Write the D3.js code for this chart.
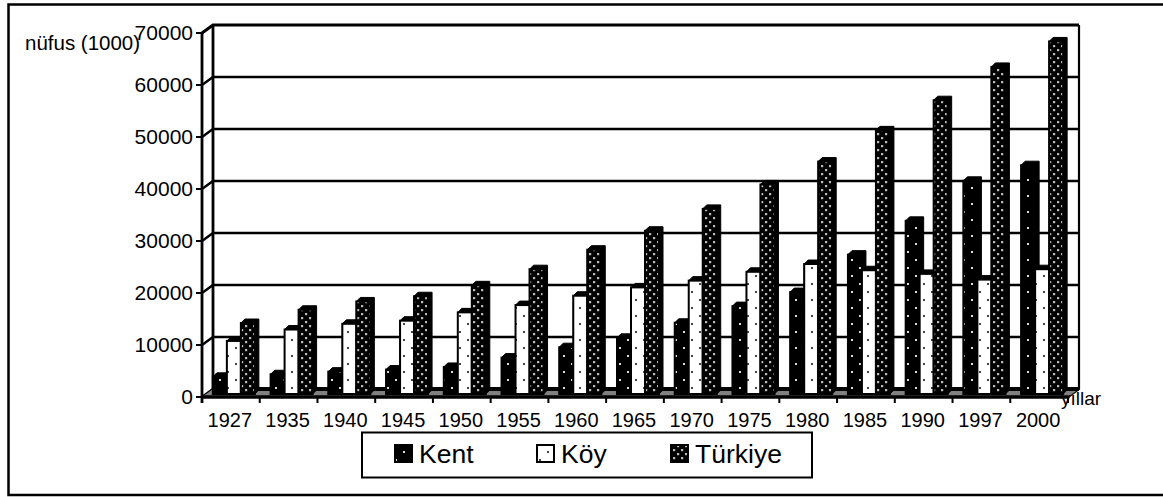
<!DOCTYPE html>
<html><head><meta charset="utf-8"><script src="https://d3js.org/d3.v7.min.js"></script>
<style>html,body{margin:0;background:#fff}svg{display:block}text{font-family:"Liberation Sans",Arial,sans-serif;fill:#000}</style></head>
<body><svg id="c" width="1163" height="497"></svg>
<script>
const categories=["1927","1935","1940","1945","1950","1955","1960","1965","1970","1975","1980","1985","1990","1997","2000"];
const kent=[3300,3800,4300,4700,5200,7000,9000,10800,13700,16900,19600,26800,33300,41000,44000];
const koy=[10200,12400,13500,14100,15700,17100,18900,20500,21800,23500,25000,23800,23100,22000,24000];
const turkiye=[13650,16200,17800,18800,20900,24000,27750,31400,35600,40300,44700,50700,56500,62900,67800];
const seriesNames=["Kent","Köy","Türkiye"];
const yTicks=[0,10000,20000,30000,40000,50000,60000,70000];
const seriesValues=[kent,koy,turkiye];
const svg=d3.select("#c");
const defs=svg.append("defs");
function pattern(id,bg,dot,w,h,r,pts){
  const p=defs.append("pattern").attr("id",id).attr("patternUnits","userSpaceOnUse").attr("width",w).attr("height",h);
  p.append("rect").attr("width",w).attr("height",h).attr("fill",bg);
  pts.forEach(q=>p.append("rect").attr("x",q[0]).attr("y",q[1]).attr("width",r).attr("height",r).attr("fill",dot));
}
pattern("pK","#000","#ddd",16,16,2,[[3,3],[11,11]]);
pattern("pV","#fff","#444",16,16,2,[[3,3],[11,11]]);
pattern("pT","#000","#bbb",8,8,2.2,[[1,1],[5,5]]);
const fills=["url(#pK)","url(#pV)","url(#pT)"];
const dx=11,dy=-8;
const x=d3.scaleBand().domain(categories).range([202,1068]);
const y=d3.scaleLinear().domain([0,70000]).range([397,33]);
const X0=x.range()[0],X1=x.range()[1],Y0=y(0),Y1=y(70000);
svg.append("path").attr("d",`M1170,4.5H8.5V495H1170`).attr("fill","none").attr("stroke","#000").attr("stroke-width",2.5);
const g=svg.append("g").attr("fill","none").attr("stroke","#000");
g.selectAll(".g").data(yTicks).join("path").attr("stroke-width",d=>d==70000?3:2.4)
 .attr("d",d=>`M${X0},${y(d)}L${X0+dx},${y(d)+dy}H${X1+dx}`);
g.append("path").attr("stroke-width",2.8).attr("d",`M${X0+dx},${Y1+dy}V${Y0+dy}`);
g.append("path").attr("stroke-width",2.2).attr("d",`M${X1+dx},${Y1+dy}V${Y0+dy}L${X1},${Y0}`);
svg.append("path").attr("fill","#808080").attr("stroke","none").attr("d",`M${X0},${Y0}L${X0+dx},${Y0+dy}H${X1+dx}L${X1},${Y0}Z`);
svg.append("path").attr("fill","none").attr("stroke","#000").attr("stroke-width",4).attr("d",`M${X0+dx},${Y0+dy}H${X1+dx}`);
const slot=14,groupPad=(x.bandwidth()-3*slot)/2+3.5;
const base=y(0)-3,sx=4,sy=-4;
const barG=svg.append("g");
const rows=categories.map((c,i)=>seriesValues.map((v,s)=>({c,s,v:v[i]}))).flat();
const h=d=>base-(y(0)-y(d.v));
const left=d=>x(d.c)+groupPad+d.s*slot-0.5;
const bars=barG.selectAll("g").data(rows).join("g");
bars.append("path").attr("fill","#000").attr("stroke","#000").attr("stroke-width",1)
 .attr("d",d=>`M${left(d)},${h(d)}L${left(d)+sx},${h(d)+sy}H${left(d)+slot+sx}V${base+sy}L${left(d)+slot},${base}H${left(d)}Z`);
bars.append("rect").attr("x",left).attr("y",h).attr("width",slot).attr("height",d=>base-h(d))
 .attr("fill",d=>fills[d.s]).attr("stroke","#000").attr("stroke-width",2);
svg.append("path").attr("fill","none").attr("stroke","#000").attr("stroke-width",3.5).attr("d",`M${X0},${Y0}H${X1}`);
svg.append("path").attr("fill","none").attr("stroke","#000").attr("stroke-width",2.8).attr("d",`M${X0},${Y1}V${Y0+6}`);
svg.selectAll(".xt").data([...categories,null]).join("path").attr("stroke","#000").attr("stroke-width",2)
 .attr("d",(d,i)=>{const a=X0+i*x.step();return `M${a},${Y0}V${Y0+6}`;});
svg.selectAll(".xl").data(categories).join("text").attr("x",d=>x(d)+x.bandwidth()/2-1).attr("y",427).attr("text-anchor","middle").attr("font-size",20).text(d=>d);
svg.selectAll(".yt").data(yTicks).join("path").attr("stroke","#000").attr("stroke-width",2).attr("d",d=>`M${X0-6},${y(d)}H${X0}`);
svg.selectAll(".yl").data(yTicks).join("text").attr("x",193).attr("y",d=>y(d)+7).attr("text-anchor","end").attr("font-size",21).text(d=>d);
svg.append("text").attr("x",25).attr("y",50).attr("font-size",20.5).text("nüfus (1000)");
svg.append("text").attr("x",1061).attr("y",405).attr("font-size",19).text("yıllar");
const lg=svg.append("g");
lg.append("rect").attr("x",362).attr("y",432.5).attr("width",450).attr("height",45).attr("fill","#fff").attr("stroke","#000").attr("stroke-width",2);
const lx=d3.scaleOrdinal().domain(seriesNames).range([395,537,671]);
const li=lg.selectAll("g").data(seriesNames).join("g");
li.append("rect").attr("x",d=>lx(d)).attr("y",445).attr("width",17).attr("height",17).attr("stroke","#000").attr("stroke-width",2).attr("fill",(d,i)=>fills[i]);
li.append("text").attr("x",d=>lx(d)+24).attr("y",463).attr("font-size",26.5).text(d=>d);
</script></body></html>
